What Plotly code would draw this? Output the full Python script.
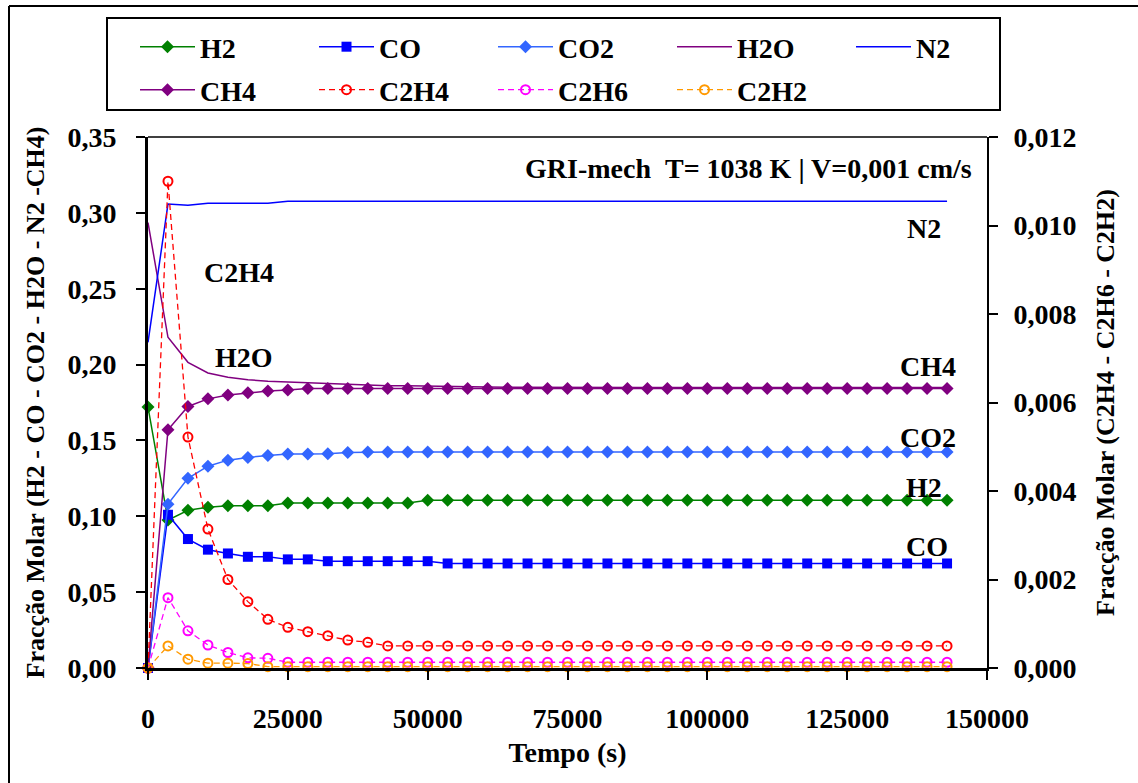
import plotly.graph_objects as go

# time (s)
tempo = [0, 3571, 7143, 10714, 14286, 17857, 21429, 25000, 28571, 32143, 35714,
         39286, 42857, 46429, 50000, 53571, 57143, 60714, 64286, 67857, 71429,
         75000, 78571, 82143, 85714, 89286, 92857, 96429, 100000, 103571, 107143,
         110714, 114286, 117857, 121429, 125000, 128571, 132143, 135714, 139286, 142857]

# left axis species
h2 = [0.172, 0.0975, 0.104, 0.106, 0.107, 0.107, 0.107, 0.1088, 0.1088, 0.1088, 0.1088,
      0.1088, 0.1088, 0.1088, 0.1105, 0.1105, 0.1105, 0.1105, 0.1105, 0.1105, 0.1105,
      0.1105, 0.1105, 0.1105, 0.1105, 0.1105, 0.1105, 0.1105, 0.1105, 0.1105, 0.1105,
      0.1105, 0.1105, 0.1105, 0.1105, 0.1105, 0.1105, 0.1105, 0.1105, 0.1105, 0.1105]
co = [0.0, 0.101, 0.085, 0.078, 0.0755, 0.0733, 0.0733, 0.0716, 0.0716, 0.0704, 0.0704,
      0.0704, 0.0704, 0.0704, 0.0704, 0.0689, 0.0689, 0.0689, 0.0689, 0.0689, 0.0689,
      0.0689, 0.0689, 0.0689, 0.0689, 0.0689, 0.0689, 0.0689, 0.0689, 0.0689, 0.0689,
      0.0689, 0.0689, 0.0689, 0.0689, 0.0689, 0.0689, 0.0689, 0.0689, 0.0689, 0.0689]
co2 = [0.0, 0.108, 0.125, 0.133, 0.137, 0.1388, 0.140, 0.141, 0.141, 0.1412, 0.142,
       0.1423, 0.1423, 0.1423, 0.1423, 0.1423, 0.1423, 0.1423, 0.1423, 0.1423, 0.1423,
       0.1423, 0.1423, 0.1423, 0.1423, 0.1423, 0.1423, 0.1423, 0.1423, 0.1423, 0.1423,
       0.1423, 0.1423, 0.1423, 0.1423, 0.1423, 0.1423, 0.1423, 0.1423, 0.1423, 0.1423]
h2o = [0.2936, 0.218, 0.2015, 0.1945, 0.1917, 0.190, 0.189, 0.1885, 0.188, 0.1875, 0.187,
       0.1865, 0.186, 0.186, 0.1857, 0.1855, 0.1853, 0.1852, 0.1851, 0.185, 0.1849,
       0.1849, 0.1849, 0.1849, 0.1849, 0.1849, 0.1849, 0.1849, 0.1849, 0.1849, 0.1849,
       0.1849, 0.1849, 0.1849, 0.1849, 0.1849, 0.1849, 0.1849, 0.1849, 0.1849, 0.1849]
n2 = [0.2147, 0.3058, 0.305, 0.3064, 0.3064, 0.3064, 0.3064, 0.3077, 0.3077, 0.3077, 0.3077,
      0.3077, 0.3077, 0.3077, 0.3077, 0.3077, 0.3077, 0.3077, 0.3077, 0.3077, 0.3077,
      0.3077, 0.3077, 0.3077, 0.3077, 0.3077, 0.3077, 0.3077, 0.3077, 0.3077, 0.3077,
      0.3077, 0.3077, 0.3077, 0.3077, 0.3077, 0.3077, 0.3077, 0.3077, 0.3077, 0.3077]
ch4 = [0.0, 0.157, 0.1724, 0.1774, 0.180, 0.1814, 0.1825, 0.1833, 0.1842, 0.1842, 0.1842,
       0.1842, 0.1842, 0.1842, 0.1842, 0.1842, 0.1842, 0.1842, 0.1842, 0.1842, 0.1842,
       0.1842, 0.1842, 0.1842, 0.1842, 0.1842, 0.1842, 0.1842, 0.1842, 0.1842, 0.1842,
       0.1842, 0.1842, 0.1842, 0.1842, 0.1842, 0.1842, 0.1842, 0.1842, 0.1842, 0.1842]

# right axis species
c2h4 = [0.0, 0.0110, 0.00522, 0.00314, 0.0020, 0.0015, 0.0011, 0.00092, 0.00082, 0.00073, 0.00063,
        0.00058, 0.0005, 0.0005, 0.0005, 0.0005, 0.0005, 0.0005, 0.0005, 0.0005, 0.0005,
        0.0005, 0.0005, 0.0005, 0.0005, 0.0005, 0.0005, 0.0005, 0.0005, 0.0005, 0.0005,
        0.0005, 0.0005, 0.0005, 0.0005, 0.0005, 0.0005, 0.0005, 0.0005, 0.0005, 0.0005]
c2h6 = [0.0, 0.00159, 0.00084, 0.00052, 0.00035, 0.00023, 0.00022, 0.00013, 0.00013, 0.00013, 0.00013,
        0.00013, 0.00013, 0.00013, 0.00013, 0.00013, 0.00013, 0.00013, 0.00013, 0.00013, 0.00013,
        0.00013, 0.00013, 0.00013, 0.00013, 0.00013, 0.00013, 0.00013, 0.00013, 0.00013, 0.00013,
        0.00013, 0.00013, 0.00013, 0.00013, 0.00013, 0.00013, 0.00013, 0.00013, 0.00013, 0.00013]
c2h2 = [0.0, 0.0005, 0.0002, 0.00011, 0.00011, 0.0001, 0.00003, 0.00003, 0.00003, 0.00003, 0.00003,
        0.00003, 0.00003, 0.00003, 0.00003, 0.00003, 0.00003, 0.00003, 0.00003, 0.00003, 0.00003,
        0.00003, 0.00003, 0.00003, 0.00003, 0.00003, 0.00003, 0.00003, 0.00003, 0.00003, 0.00003,
        0.00003, 0.00003, 0.00003, 0.00003, 0.00003, 0.00003, 0.00003, 0.00003, 0.00003, 0.00003]

x_ticks = [0, 25000, 50000, 75000, 100000, 125000, 150000]
curve_labels = ["C2H4", "H2O", "N2", "CH4", "CO2", "H2", "CO"]
label_x = [16200, 17200, 138700, 139500, 139500, 138700, 139200]
label_y = [0.2605, 0.2046, 0.2895, 0.1987, 0.152, 0.119, 0.0803]

FONT = "Liberation Serif"
fig = go.Figure()

def left(name, y, color, symbol=None, size=10, legend="legend"):
    mode = "lines+markers" if symbol else "lines"
    fig.add_trace(go.Scatter(
        x=tempo, y=y, name=name, mode=mode, legend=legend, cliponaxis=False,
        line=dict(color=color, width=1.5),
        marker=dict(symbol=symbol or "circle", size=size, color=color,
                    line=dict(width=0))))

def right(name, y, color):
    fig.add_trace(go.Scatter(
        x=tempo, y=y, name=name, mode="lines+markers", yaxis="y2", legend="legend2",
        cliponaxis=False,
        line=dict(color=color, width=1.3, dash="6px,4px"),
        marker=dict(symbol="circle-open", size=9, color=color, line=dict(width=2, color=color))))

left("H2", h2, "#008000", "diamond", 10)
left("CO", co, "#0000FF", "square", 10)
left("CO2", co2, "#3366FF", "diamond", 10)
left("H2O", h2o, "#800080")
left("N2", n2, "#0000FF")
left("CH4", ch4, "#800080", "diamond", 10, legend="legend2")
right("C2H4", c2h4, "#FF0000")
right("C2H6", c2h6, "#FF00FF")
right("C2H2", c2h2, "#FF9900")

for t, xv, yv in zip(curve_labels, label_x, label_y):
    fig.add_annotation(x=xv, y=yv, xref="x", yref="y", text=t, showarrow=False,
                       font=dict(size=28, family=FONT, color="black", weight="bold"))

fig.add_annotation(x=147600, y=0.329, xref="x", yref="y", xanchor="right",
                   text="GRI-mech&nbsp;&nbsp;T= 1038 K | V=0,001 cm/s", showarrow=False,
                   font=dict(size=28, family=FONT, color="black", weight="bold"))

W, H = 1138, 783
L, R, T, B = 148, 151, 137, 115
pw, ph = W - L - R, H - T - B
def px(xp):
    return (xp - L) / pw
def py(yp):
    return (H - B - yp) / ph

shapes = [
    dict(type="rect", xref="paper", yref="paper", x0=px(107), x1=px(1000), y0=py(110), y1=py(18),
         line=dict(color="black", width=2)),
    dict(type="line", xref="paper", yref="paper", x0=px(9), x1=px(9), y0=py(6), y1=py(783),
         line=dict(color="black", width=2)),
    dict(type="line", xref="paper", yref="paper", x0=px(9), x1=px(1138), y0=py(6), y1=py(6),
         line=dict(color="black", width=2)),
    dict(type="line", xref="paper", yref="paper", x0=0, x1=1, y0=1, y1=1,
         line=dict(color="black", width=1.5)),
]

legfont = dict(size=28, family=FONT, color="black", weight="bold")
fig.update_layout(
    width=W, height=H,
    margin=dict(l=L, r=R, t=T, b=B),
    paper_bgcolor="white", plot_bgcolor="white",
    separators=",.",
    font=dict(family=FONT, size=26, color="black", weight="bold"),
    shapes=shapes,
    legend=dict(orientation="h", xref="paper", yref="paper", x=px(135), y=py(47),
                xanchor="left", yanchor="middle", font=legfont, entrywidth=109, itemwidth=55,
                bgcolor="rgba(0,0,0,0)", borderwidth=0, tracegroupgap=0),
    legend2=dict(orientation="h", xref="paper", yref="paper", x=px(135), y=py(90),
                 xanchor="left", yanchor="middle", font=legfont, entrywidth=109, itemwidth=55,
                 bgcolor="rgba(0,0,0,0)", borderwidth=0, tracegroupgap=0),
    xaxis=dict(range=[0, 150000], tickvals=x_ticks, tickformat="d", showgrid=False, zeroline=False,
               showline=True, linecolor="black", linewidth=3, ticks="outside", ticklen=9,
               tickwidth=2, tickcolor="black", ticklabelstandoff=14,
               tickfont=dict(size=28, family=FONT, weight="bold"),
               title=dict(text="Tempo (s)", standoff=10, font=dict(size=28, family=FONT, weight="bold"))),
    yaxis=dict(range=[0, 0.35], dtick=0.05, tickformat=".2f", showgrid=False, zeroline=False,
               showline=True, linecolor="black", linewidth=3, ticks="outside", ticklen=9,
               tickwidth=2, tickcolor="black", ticklabelstandoff=14,
               tickfont=dict(size=28, family=FONT, weight="bold"),
               title=dict(text="Fracção Molar (H2 - CO - CO2 - H2O - N2 -CH4)", standoff=16,
                          font=dict(size=26, family=FONT, weight="bold"))),
    yaxis2=dict(range=[0, 0.012], dtick=0.002, tickformat=".3f", overlaying="y", side="right",
                showgrid=False, zeroline=False, showline=True, linecolor="black", linewidth=2,
                ticks="outside", ticklen=9, tickwidth=2, tickcolor="black", ticklabelstandoff=10,
                tickfont=dict(size=28, family=FONT, weight="bold"),
                title=dict(text="Fracção Molar (C2H4 - C2H6 - C2H2)", standoff=20,
                           font=dict(size=26, family=FONT, weight="bold"))),
)

fig.write_html("out.html", config={"displayModeBar": False},
               post_script="document.body.style.margin='0';")
